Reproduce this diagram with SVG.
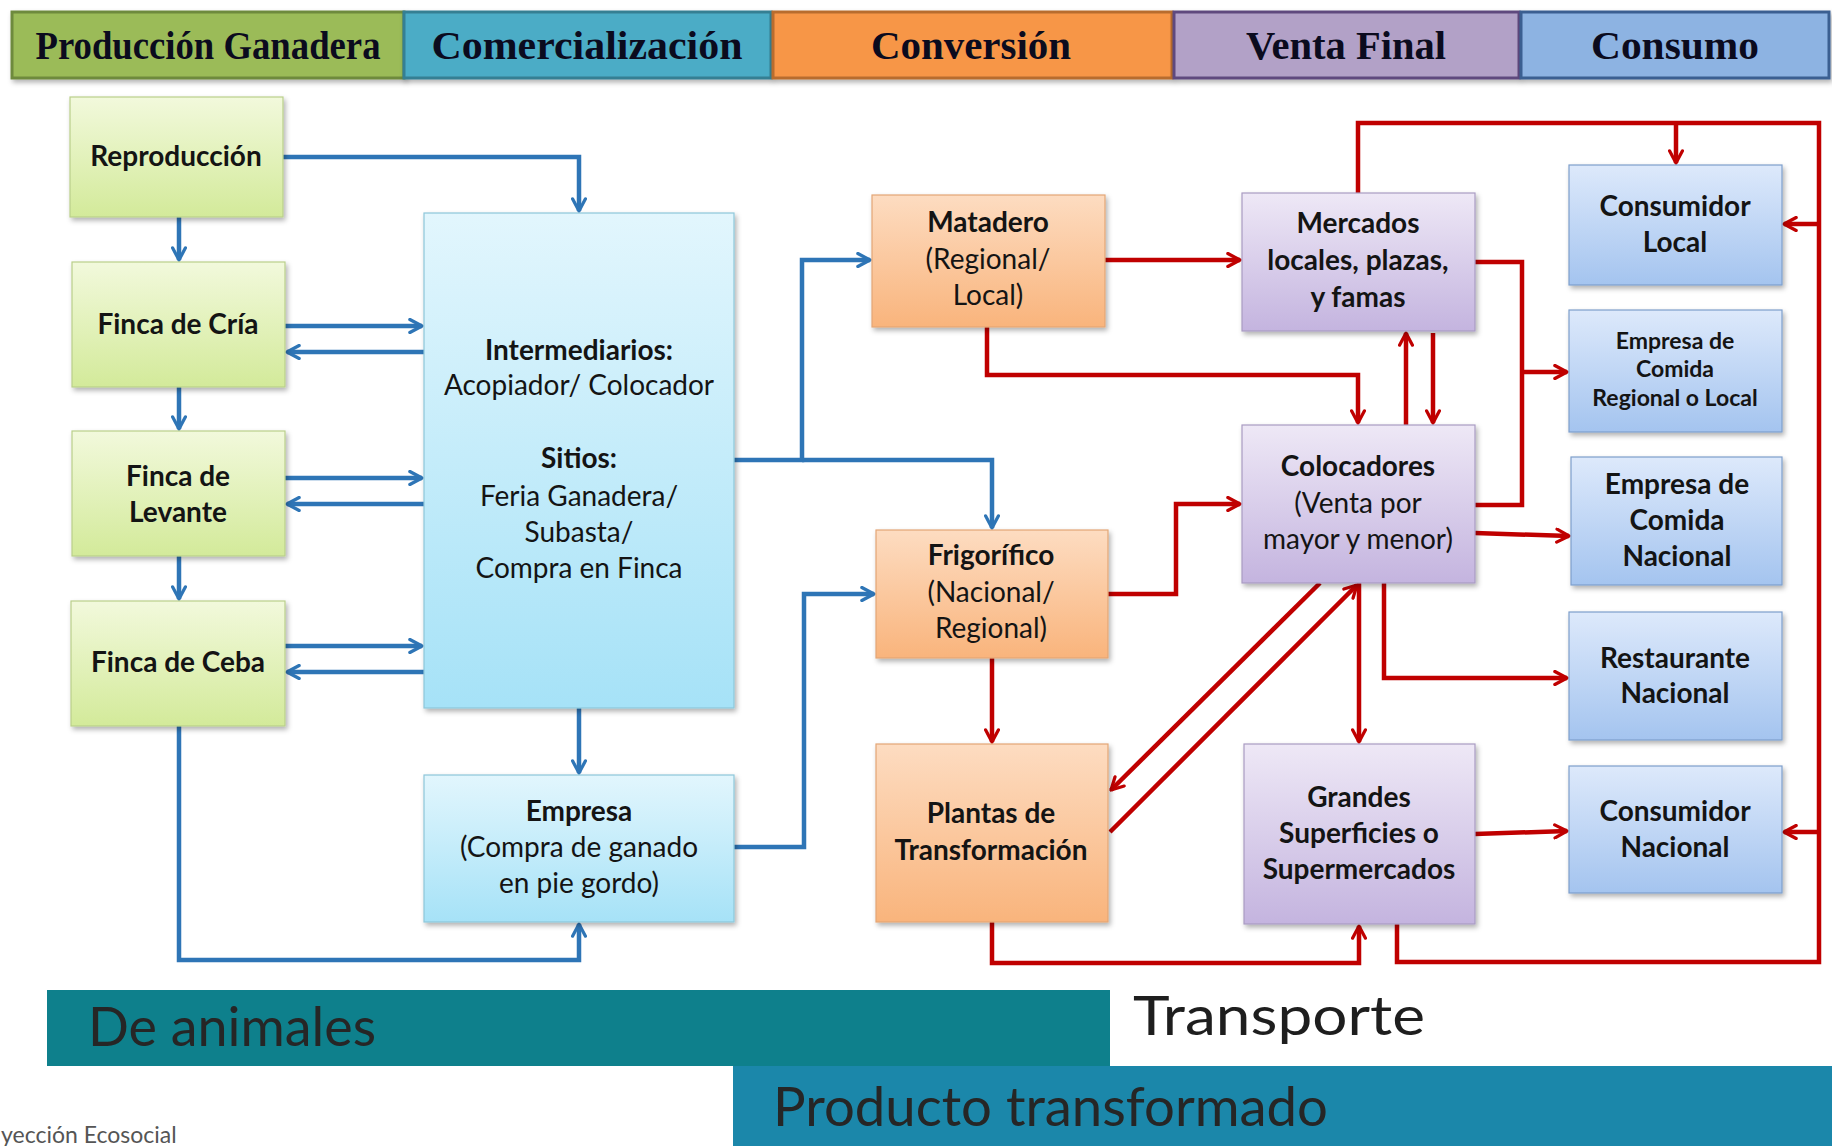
<svg xmlns="http://www.w3.org/2000/svg" width="1832" height="1146" viewBox="0 0 1832 1146">
<defs>
<linearGradient id="gGreen" x1="0" y1="0" x2="0" y2="1"><stop offset="0" stop-color="#F2F9DC"/><stop offset="1" stop-color="#D3EA9A"/></linearGradient>
<linearGradient id="gCyan" x1="0" y1="0" x2="0" y2="1"><stop offset="0" stop-color="#E2F6FD"/><stop offset="1" stop-color="#A6E2F7"/></linearGradient>
<linearGradient id="gOrange" x1="0" y1="0" x2="0" y2="1"><stop offset="0" stop-color="#FDDCC1"/><stop offset="1" stop-color="#F9B47C"/></linearGradient>
<linearGradient id="gPurple" x1="0" y1="0" x2="0" y2="1"><stop offset="0" stop-color="#EEE8F6"/><stop offset="1" stop-color="#C4B4DF"/></linearGradient>
<linearGradient id="gBlue" x1="0" y1="0" x2="0" y2="1"><stop offset="0" stop-color="#DDE9FB"/><stop offset="1" stop-color="#A4C4EF"/></linearGradient>
<filter id="sh" x="-10%" y="-10%" width="130%" height="130%"><feDropShadow dx="2" dy="3" stdDeviation="2.5" flood-color="#000" flood-opacity="0.3"/></filter>
<marker id="aB" viewBox="0 0 10 10" refX="9" refY="5" markerWidth="3.6" markerHeight="3.6" orient="auto" markerUnits="strokeWidth"><path d="M1.5,1 L9,5 L1.5,9" fill="none" stroke="#2E75B6" stroke-width="2" stroke-linecap="round" stroke-linejoin="round"/></marker>
<marker id="aR" viewBox="0 0 10 10" refX="9" refY="5" markerWidth="3.6" markerHeight="3.6" orient="auto" markerUnits="strokeWidth"><path d="M1.5,1 L9,5 L1.5,9" fill="none" stroke="#C00000" stroke-width="2" stroke-linecap="round" stroke-linejoin="round"/></marker>
<style>
.hd{stroke-width:3;filter:url(#sh)}
.ht{font-family:"Liberation Serif","DejaVu Serif",serif;font-weight:bold;font-size:39px;fill:#0B0B1E;text-anchor:middle}
.nd{filter:url(#sh);stroke-width:1.2}
.green{fill:url(#gGreen);stroke:#B9CF8A}
.cyan{fill:url(#gCyan);stroke:#8DC6D9}
.orange{fill:url(#gOrange);stroke:#E3A676}
.purple{fill:url(#gPurple);stroke:#A99BC2}
.blue{fill:url(#gBlue);stroke:#7E9FCB}
.t{font-family:Lato,"Open Sans","Liberation Sans",sans-serif;font-size:28px;fill:#141414;text-anchor:middle}
.b{font-weight:bold}
.s{font-size:23px}
.cb{fill:none;stroke:#2E75B6;stroke-width:4.5;marker-end:url(#aB)}
.cbn{fill:none;stroke:#2E75B6;stroke-width:4.5}
.cr{fill:none;stroke:#C00000;stroke-width:4.5;marker-end:url(#aR)}
.crn{fill:none;stroke:#C00000;stroke-width:4.5}
.bt{font-family:Lato,"Open Sans","Liberation Sans",sans-serif;font-size:54px;fill:#262626}
</style>
</defs>
<rect width="1832" height="1146" fill="#FFFFFF"/>

<g id="header">
<rect class="hd" x="12" y="12" width="392" height="66" fill="#9BBB59" stroke="#6E8A3C"/>
<rect class="hd" x="404" y="12" width="367" height="66" fill="#4BACC6" stroke="#357F93"/>
<rect class="hd" x="773" y="12" width="399" height="66" fill="#F79646" stroke="#B86C2E"/>
<rect class="hd" x="1174" y="12" width="345" height="66" fill="#B2A1C7" stroke="#5E4A7E"/>
<rect class="hd" x="1521" y="12" width="308" height="66" fill="#8DB3E2" stroke="#3B5F91"/>
<text class="ht" x="208" y="59" textLength="345" lengthAdjust="spacingAndGlyphs">Producción Ganadera</text>
<text class="ht" x="587" y="59" textLength="311" lengthAdjust="spacingAndGlyphs">Comercialización</text>
<text class="ht" x="971" y="59" textLength="200" lengthAdjust="spacingAndGlyphs">Conversión</text>
<text class="ht" x="1346" y="59" textLength="200" lengthAdjust="spacingAndGlyphs">Venta Final</text>
<text class="ht" x="1675" y="59" textLength="168" lengthAdjust="spacingAndGlyphs">Consumo</text>
</g>

<g id="connectors">
<path class="cb" d="M283,157 H579 V211"/>
<path class="cb" d="M179,217 V260"/>
<path class="cb" d="M179,387 V429"/>
<path class="cb" d="M179,556 V599"/>
<path class="cb" d="M285,326 H422"/>
<path class="cb" d="M424,352 H287"/>
<path class="cb" d="M285,478 H422"/>
<path class="cb" d="M424,504 H287"/>
<path class="cb" d="M285,646 H422"/>
<path class="cb" d="M424,672 H287"/>
<path class="cb" d="M579,708 V773"/>
<path class="cb" d="M179,726 V960 H579 V924"/>
<path class="cb" d="M734,460 H802 V260 H870"/>
<path class="cb" d="M802,460 H992 V528"/>
<path class="cb" d="M734,847 H804 V594 H874"/>

<path class="cr" d="M1105,260 H1240"/>
<path class="cr" d="M987,327 V375 H1358 V423"/>
<path class="cr" d="M1406,425 V333"/>
<path class="cr" d="M1433,333 V423"/>
<path class="cr" d="M1108,594 H1176 V504 H1240"/>
<path class="crn" d="M1475,262 H1522 V505 H1475"/>
<path class="cr" d="M1522,372 H1567"/>
<path class="cr" d="M1475,533 L1569,536"/>
<path class="cr" d="M1320,583 L1111,790"/>
<path class="cr" d="M1110,832 L1357,585"/>
<path class="cr" d="M1359,583 V742"/>
<path class="cr" d="M1384,583 V678 H1567"/>
<path class="cr" d="M992,658 V742"/>
<path class="cr" d="M992,922 V963 H1359 V926"/>
<path class="crn" d="M1358,193 V123 H1819 V962 H1397 V924"/>
<path class="cr" d="M1676,123 V163"/>
<path class="cr" d="M1819,224 H1784"/>
<path class="cr" d="M1819,832 H1784"/>
<path class="cr" d="M1475,834 L1567,831"/>
</g>

<g id="n-reproduccion"><rect class="nd green" x="70" y="97" width="213" height="120"/><text class="t b" x="176" y="166">Reproducción</text></g>
<g id="n-cria"><rect class="nd green" x="72" y="262" width="213" height="125"/><text class="t b" x="178" y="334">Finca de Cría</text></g>
<g id="n-levante"><rect class="nd green" x="72" y="431" width="213" height="125"/><text class="t b" x="178" y="486">Finca de</text><text class="t b" x="178" y="522">Levante</text></g>
<g id="n-ceba"><rect class="nd green" x="71" y="601" width="214" height="125"/><text class="t b" x="178" y="672">Finca de Ceba</text></g>

<g id="n-intermediarios"><rect class="nd cyan" x="424" y="213" width="310" height="495"/>
<text class="t b" x="579" y="360">Intermediarios:</text>
<text class="t" x="579" y="395">Acopiador/ Colocador</text>
<text class="t b" x="579" y="468">Sitios:</text>
<text class="t" x="579" y="506">Feria Ganadera/</text>
<text class="t" x="579" y="542">Subasta/</text>
<text class="t" x="579" y="578">Compra en Finca</text></g>
<g id="n-empresa"><rect class="nd cyan" x="424" y="775" width="310" height="147"/>
<text class="t b" x="579" y="821">Empresa</text>
<text class="t" x="579" y="857">(Compra de ganado</text>
<text class="t" x="579" y="893">en pie gordo)</text></g>

<g id="n-matadero"><rect class="nd orange" x="872" y="195" width="233" height="132"/>
<text class="t b" x="988" y="232">Matadero</text>
<text class="t" x="988" y="269">(Regional/</text>
<text class="t" x="988" y="305">Local)</text></g>
<g id="n-frigorifico"><rect class="nd orange" x="876" y="530" width="232" height="128"/>
<text class="t b" x="991" y="565">Frigorífico</text>
<text class="t" x="991" y="602">(Nacional/</text>
<text class="t" x="991" y="638">Regional)</text></g>
<g id="n-plantas"><rect class="nd orange" x="876" y="744" width="232" height="178"/>
<text class="t b" x="991" y="823">Plantas de</text>
<text class="t b" x="991" y="860">Transformación</text></g>

<g id="n-mercados"><rect class="nd purple" x="1242" y="193" width="233" height="138"/>
<text class="t b" x="1358" y="233">Mercados</text>
<text class="t b" x="1358" y="270">locales, plazas,</text>
<text class="t b" x="1358" y="307">y famas</text></g>
<g id="n-colocadores"><rect class="nd purple" x="1242" y="425" width="233" height="158"/>
<text class="t b" x="1358" y="476">Colocadores</text>
<text class="t" x="1358" y="513">(Venta por</text>
<text class="t" x="1358" y="549">mayor y menor)</text></g>
<g id="n-grandes"><rect class="nd purple" x="1244" y="744" width="231" height="180"/>
<text class="t b" x="1359" y="807">Grandes</text>
<text class="t b" x="1359" y="843">Superficies o</text>
<text class="t b" x="1359" y="879">Supermercados</text></g>

<g id="n-consumidor-local"><rect class="nd blue" x="1569" y="165" width="213" height="120"/>
<text class="t b" x="1675" y="216">Consumidor</text>
<text class="t b" x="1675" y="252">Local</text></g>
<g id="n-empresa-regional"><rect class="nd blue" x="1569" y="310" width="213" height="122"/>
<text class="t b s" x="1675" y="349">Empresa de</text>
<text class="t b s" x="1675" y="377">Comida</text>
<text class="t b s" x="1675" y="406">Regional o Local</text></g>
<g id="n-empresa-nacional"><rect class="nd blue" x="1571" y="457" width="211" height="128"/>
<text class="t b" x="1677" y="494">Empresa de</text>
<text class="t b" x="1677" y="530">Comida</text>
<text class="t b" x="1677" y="566">Nacional</text></g>
<g id="n-restaurante"><rect class="nd blue" x="1569" y="612" width="213" height="128"/>
<text class="t b" x="1675" y="668">Restaurante</text>
<text class="t b" x="1675" y="703">Nacional</text></g>
<g id="n-consumidor-nacional"><rect class="nd blue" x="1569" y="766" width="213" height="127"/>
<text class="t b" x="1675" y="821">Consumidor</text>
<text class="t b" x="1675" y="857">Nacional</text></g>

<g id="transport">
<rect x="47" y="990" width="1063" height="76" fill="#0E808C"/>
<rect x="733" y="1066" width="1099" height="80" fill="#1B87AA"/>
<text class="bt" x="88" y="1046" textLength="288" lengthAdjust="spacingAndGlyphs">De animales</text>
<text class="bt" x="1133" y="1035" textLength="292" lengthAdjust="spacingAndGlyphs" style="fill:#1E1E1E">Transporte</text>
<text class="bt" x="773" y="1126" textLength="555" lengthAdjust="spacingAndGlyphs">Producto transformado</text>
<text x="1" y="1143" font-family="Lato, 'Open Sans', sans-serif" font-size="23" fill="#555">yección Ecosocial</text>
</g>
</svg>
